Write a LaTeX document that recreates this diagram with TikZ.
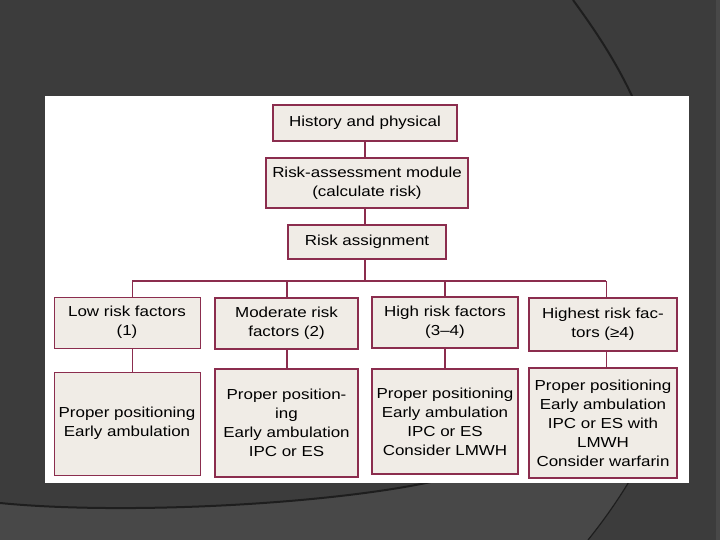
\documentclass[tikz,border=0pt]{standalone}
\usepackage{fontspec}
\setmainfont{Liberation Sans}[FakeStretch=1.17]
\definecolor{bgc}{HTML}{3C3C3C}
\definecolor{bglight}{HTML}{484848}
\definecolor{arcc}{HTML}{1E1E1E}
\definecolor{boxc}{RGB}{139,45,78}
\definecolor{boxf}{RGB}{240,236,230}
\tikzset{
  bx/.style={draw=boxc, fill=boxf, align=center, inner sep=0pt,
    font=\fontsize{14.5}{19}\selectfont, line width=#1},
  bx/.default=1.2pt,
  conn/.style={draw=boxc, line width=#1},
  conn/.default=1.2pt
}
\begin{document}
\begin{tikzpicture}[x=1pt,y=-1pt]
\useasboundingbox (0,0) rectangle (720,540);
% background
\fill[bgc] (0,0) rectangle (720,540);
\fill[bglight] (0,503) .. controls (120,515) and (330,505) .. (440,480)
  -- (630,480) .. controls (615,505) and (600,525) .. (588,540) -- (0,540) -- cycle;
\fill[bglight] (716,0) rectangle (720,540);
\draw[arcc, line width=2pt] (0,503) .. controls (120,515) and (330,505) .. (440,480);
\draw[arcc, line width=1.2pt] (630,480) .. controls (615,505) and (600,525) .. (588,540);
\draw[arcc, line width=2pt] (573,0) .. controls (595,30) and (615,60) .. (632,96);
% panel
\fill[white] (45,96) rectangle (689,483);
% top chain
\node[bx=1.4pt, minimum width=184pt, minimum height=36pt] (hist) at (365,123) {History and physical};
\node[bx=2pt, minimum width=202pt, minimum height=50pt] (ram) at (367,183) {Risk-assessment module\\(calculate risk)};
\node[bx=1.4pt, minimum width=158pt, minimum height=34pt] (ra) at (367,242) {Risk assignment};
% risk level boxes
\node[bx=1pt, minimum width=146pt, minimum height=51pt] (low) at (127,322.5) {Low risk factors\\(1)};
\node[bx=2pt, minimum width=143pt, minimum height=51pt] (mod) at (286.5,323.5) {Moderate risk\\factors (2)};
\node[bx=1.6pt, minimum width=146pt, minimum height=51pt] (high) at (445,322.5) {High risk factors\\(3–4)};
\node[bx=1.2pt, minimum width=148pt, minimum height=53pt] (highest) at (603,324.5) {Highest risk fac-\\tors (≥4)};
% measures boxes
\node[bx=1pt, minimum width=146pt, minimum height=103pt] (lowb) at (127,423.5) {Proper positioning\\Early ambulation};
\node[bx=2pt, minimum width=143pt, minimum height=108pt] (modb) at (286.5,423) {Proper position-\\ing\\Early ambulation\\IPC or ES};
\node[bx=1.6pt, minimum width=146pt, minimum height=105pt] (highb) at (445,421.5) {Proper positioning\\Early ambulation\\IPC or ES\\Consider LMWH};
\node[bx=1.2pt, minimum width=148pt, minimum height=110pt] (highestb) at (603,423) {Proper positioning\\Early ambulation\\IPC or ES with\\LMWH\\Consider warfarin};
% connectors
\coordinate (busL) at (132,281);
\coordinate (busR) at (606,281);
\coordinate (busC) at (365,281);
\draw[conn=2pt] (hist.south) -- (hist.south |- ram.north);
\draw[conn=2pt] (hist.south |- ram.south) -- (hist.south |- ra.north);
\draw[conn=2pt] (hist.south |- ra.south) -- (busC);
\draw[conn=1.2pt] (busL) -- (busR);
\draw[conn=1pt] (busL) -- (busL |- low.north);
\draw[conn=1pt] (busL |- low.south) -- (busL |- lowb.north);
\draw[conn=2pt] (mod.north |- busC) -- (mod.north);
\draw[conn=2pt] (mod.south) -- (modb.north);
\draw[conn=2pt] (high.north |- busC) -- (high.north);
\draw[conn=2pt] (high.south) -- (highb.north);
\draw[conn=1pt] (busR) -- (busR |- highest.north);
\draw[conn=1pt] (busR |- highest.south) -- (busR |- highestb.north);
\end{tikzpicture}
\end{document}
